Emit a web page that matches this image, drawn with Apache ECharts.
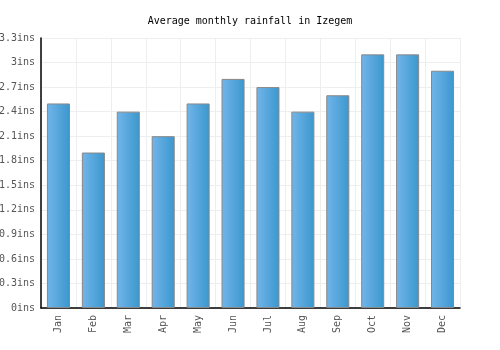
<!DOCTYPE html>
<html><head><meta charset="utf-8">
<script src="https://cdn.jsdelivr.net/npm/echarts@6/dist/echarts.min.js"></script>
<style>html,body{margin:0;padding:0;background:#fff}#c{width:500px;height:350px}</style>
</head><body><div id="c"></div>
<script>
const months = ["Jan","Feb","Mar","Apr","May","Jun","Jul","Aug","Sep","Oct","Nov","Dec"];
const rainfall = [2.5,1.9,2.4,2.1,2.5,2.8,2.7,2.4,2.6,3.1,3.1,2.9];
const titleText = "Average monthly rainfall in Izegem";
const unit = "ins";

const chart = echarts.init(document.getElementById('c'), null, {renderer:'canvas'});
const font = "DejaVu Sans Mono";
chart.setOption({
  animation:false,
  title:{text:titleText,left:'center',top:11,textStyle:{fontFamily:font,fontSize:10,fontWeight:'normal',color:'#000'}},
  grid:{left:41,right:40,top:38,bottom:42,containLabel:false,outerBoundsMode:'none'},
  xAxis:{type:'category',data:months,
    axisLine:{lineStyle:{color:'#000',width:1.5}},
    axisTick:{show:false},
    axisLabel:{rotate:90,fontFamily:font,fontSize:10,color:'#555',margin:7},
    splitLine:{show:true,lineStyle:{color:'#eee'}}},
  yAxis:{type:'value',min:0,max:3.3,interval:0.3,
    axisLine:{show:true,lineStyle:{color:'#000',width:1.5}},
    axisTick:{show:false},
    axisLabel:{fontFamily:font,fontSize:10,color:'#555',margin:6,
      formatter:v=>(Math.round(v*10)/10)+unit},
    splitLine:{lineStyle:{color:'#eee'}}},
  series:[{type:'bar',data:rainfall,barWidth:'66%',
    itemStyle:{borderColor:'#888',borderWidth:1,
      color:new echarts.graphic.LinearGradient(0,0,1,0,[{offset:0,color:'#72b5ea'},{offset:1,color:'#3a97cd'}])}}]
});
</script></body></html>
